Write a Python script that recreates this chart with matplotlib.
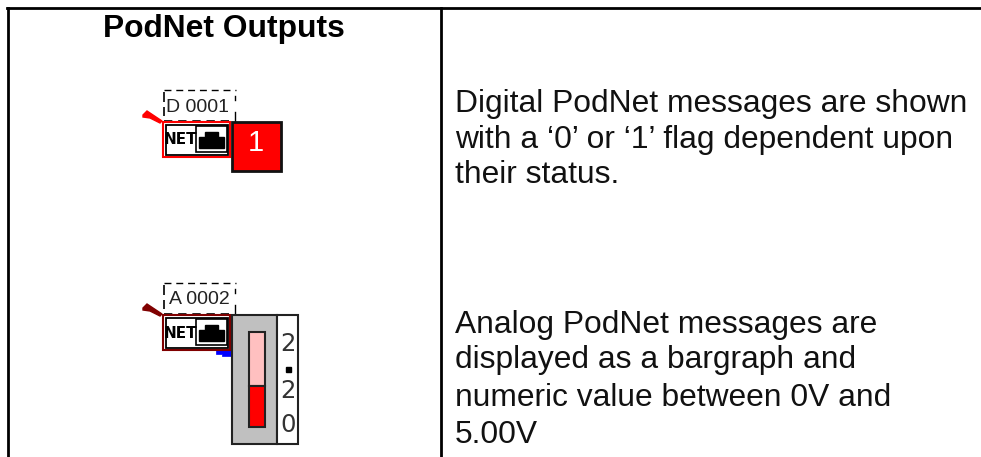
import matplotlib
matplotlib.use("Agg")
import matplotlib.pyplot as plt
from matplotlib.patches import Rectangle, Polygon

title = "PodNet Outputs"
digital_lines = ["Digital PodNet messages are shown", "with a ‘0’ or ‘1’ flag dependent upon", "their status."]
analog_lines = ["Analog PodNet messages are", "displayed as a bargraph and", "numeric value between 0V and", "5.00V"]
digital_label = "D 0001"
analog_label = "A 0002"
flag_value = "1"
readout = ["2", ".", "2", "0"]

W, H = 981, 457
fig = plt.figure(figsize=(W / 100, H / 100), dpi=100)
ax = fig.add_axes([0, 0, 1, 1])
ax.set_xlim(0, W)
ax.set_ylim(H, 0)
ax.axis("off")
plt.rcParams["font.family"] = ["Liberation Sans", "DejaVu Sans"]

ax.plot([7, 981], [8, 8], color="k", lw=2)
ax.plot([7.5, 7.5], [8, H], color="k", lw=2)
ax.plot([441, 441], [8, H], color="k", lw=2)

ax.text(224, 37, title, fontsize=22.9, fontweight="bold", ha="center", va="baseline", family="Liberation Sans")
for s, y in zip(digital_lines, [112, 148, 183]):
    ax.text(455, y, s, fontsize=22.9, va="baseline", family="Liberation Sans", color="#111111")
for s, y in zip(analog_lines, [333, 368, 406, 443]):
    ax.text(455, y, s, fontsize=22.9, va="baseline", family="Liberation Sans", color="#111111")


def rect(x0, y0, x1, y1, fc="white", ec="k", lw=1.5, z=2):
    ax.add_patch(Rectangle((x0, y0), x1 - x0, y1 - y0, fc=fc, ec=ec, lw=lw, zorder=z))


def net_block(y0, wire):
    ax.plot([164, 236], [y0 - 32, y0 - 32], color="k", lw=1, ls=(0, (5, 3.5)))
    ax.plot([164, 230], [y0 - 1, y0 - 1], color="k", lw=1.2, ls=(0, (5, 3.5)))
    ax.plot([235, 235], [y0 - 26, y0 - 22], color="k", lw=1)
    ax.plot([235, 235], [y0 - 10, y0 + 1], color="k", lw=1)
    ax.plot([164, 164], [y0 - 30, y0 - 6], color="k", lw=1.2, ls=(0, (6, 3)))
    ax.add_patch(Polygon([[143, y0 - 7], [147, y0 - 11], [150, y0 - 9], [153, y0 - 7], [162, y0 - 1], [160, y0 + 1],
                          [150, y0 - 4], [143, y0 - 5]], fc=wire, ec=wire, lw=1, zorder=3))
    rect(163, y0, 230, y0 + 35, ec=wire, lw=1.5)
    rect(165.5, y0 + 2.5, 228, y0 + 33, ec="k", lw=1.3)
    ax.text(180.5, y0 + 18, "NET", fontsize=11, family="Liberation Sans Narrow", ha="center", va="center",
            fontweight="bold", zorder=4)
    rect(196, y0 + 4, 227, y0 + 30, ec="k", lw=1.2, z=3)
    ax.add_patch(Polygon([[199, y0 + 26], [199, y0 + 15], [205, y0 + 15], [205, y0 + 10], [218, y0 + 10],
                          [218, y0 + 15], [224, y0 + 15], [224, y0 + 26]], fc="k", ec="k", zorder=4))


# digital block
net_block(122, "#ff0000")
ax.text(197, 107, digital_label, fontsize=14, color="#222222", ha="center", va="center", family="Liberation Sans")
rect(232, 122, 281, 171, fc="#ff0000", ec="#111111", lw=2)
ax.text(256, 143, flag_value, fontsize=21, color="white", ha="center", va="center", zorder=5, family="Liberation Sans")

# analog block
net_block(315, "#800000")
ax.text(199, 300, analog_label, fontsize=14, color="#222222", ha="center", va="center", family="Liberation Sans")
ax.add_patch(Polygon([[216, 345], [224, 345], [224, 350], [232, 350], [232, 356], [222, 356], [222, 354], [216, 354]],
                     fc="#0000ff", ec="#0000ff", lw=0.5, zorder=1))
rect(232, 315, 277, 444, fc="#c0c0c0", ec="#222222", lw=1.5)
rect(277, 315, 297.5, 444, fc="white", ec="#222222", lw=1.5)
rect(248.5, 332, 265, 386, fc="#ffc0c0", ec="#222222", lw=1.5)
rect(248.5, 386, 265, 427, fc="#ff0000", ec="#222222", lw=1.5)
for d, y in zip(readout, [344, 0, 391, 425]):
    if d != ".":
        ax.text(288, y, d, fontsize=17.5, color="#333333", ha="center", va="center", zorder=5,
                family="Liberation Sans Narrow")
ax.add_patch(Rectangle((286, 367), 5, 5, fc="k", ec="k", zorder=5))

fig.savefig("out.png", dpi=100)
